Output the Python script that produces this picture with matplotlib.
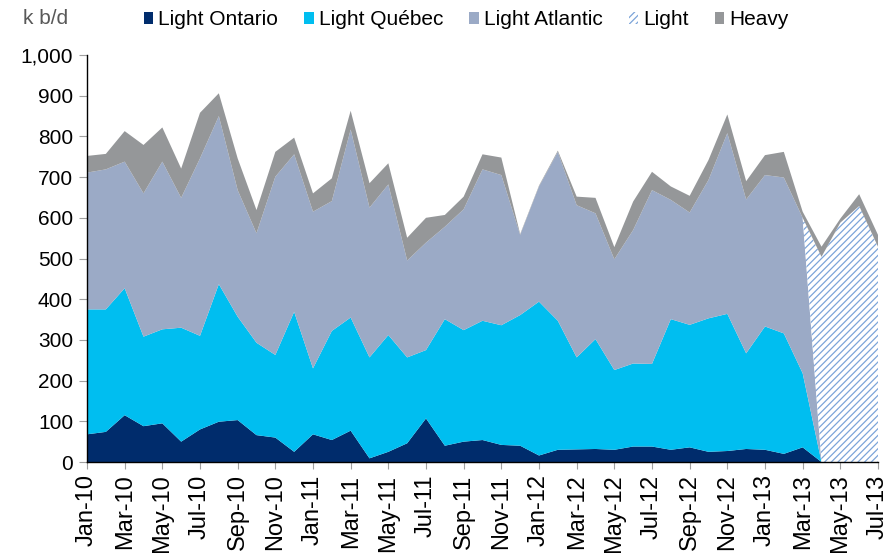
import numpy as np
import matplotlib
matplotlib.use('Agg')
import matplotlib.pyplot as plt
from matplotlib.patches import Patch
from matplotlib.ticker import FuncFormatter

plt.rcParams['font.family'] = ['Liberation Sans', 'DejaVu Sans']
plt.rcParams['hatch.linewidth'] = 0.9

# monthly data, Jan-10 .. Jul-13 (k b/d)
months = ['Jan-10', 'Feb-10', 'Mar-10', 'Apr-10', 'May-10', 'Jun-10', 'Jul-10', 'Aug-10',
          'Sep-10', 'Oct-10', 'Nov-10', 'Dec-10', 'Jan-11', 'Feb-11', 'Mar-11', 'Apr-11',
          'May-11', 'Jun-11', 'Jul-11', 'Aug-11', 'Sep-11', 'Oct-11', 'Nov-11', 'Dec-11',
          'Jan-12', 'Feb-12', 'Mar-12', 'Apr-12', 'May-12', 'Jun-12', 'Jul-12', 'Aug-12',
          'Sep-12', 'Oct-12', 'Nov-12', 'Dec-12', 'Jan-13', 'Feb-13', 'Mar-13', 'Apr-13',
          'May-13', 'Jun-13', 'Jul-13']

light_ontario = [68, 74, 115, 88, 95, 50, 80, 99, 103, 66, 60, 25, 68, 54, 77, 9, 25, 46, 107, 40,
                 50, 54, 42, 40, 16, 30, 31, 32, 30, 38, 38, 30, 36, 25, 27, 32, 30, 20, 36,
                 0, 0, 0, 0]
light_quebec = [307, 301, 312, 220, 231, 280, 230, 338, 254, 227, 203, 344, 162, 268, 278, 248,
                287, 211, 168, 311, 274, 293, 294, 321, 378, 317, 226, 270, 196, 204, 203, 321,
                301, 328, 337, 235, 303, 296, 182, 0, 0, 0, 0]
light_atlantic = [336, 344, 311, 352, 412, 319, 436, 413, 311, 269, 438, 387, 385, 319, 462, 368,
                  370, 238, 264, 227, 297, 372, 369, 197, 283, 415, 374, 309, 272, 328, 427, 293,
                  276, 340, 444, 378, 372, 383, 382, 0, 0, 0, 0]
light = [0] * 39 + [504, 588, 629, 529]
heavy = [41, 38, 75, 119, 84, 72, 112, 56, 78, 57, 61, 41, 45, 56, 46, 60, 52, 56, 61, 29,
         31, 37, 43, 2, 2, 3, 21, 38, 30, 70, 45, 33, 41, 49, 46, 45, 49, 63, 15, 25, 10, 29, 29]

names = ['Light Ontario', 'Light Québec', 'Light Atlantic', 'Light', 'Heavy']
colors = ['#002c6c', '#00bef0', '#9baac6', 'white', '#959799']
hatch_color = '#7ca4d9'

x = np.arange(len(months))

fig = plt.figure(figsize=(8.88, 5.53), dpi=100)
ax = fig.add_axes([87 / 888, 91 / 553, 791 / 888, 407 / 553])

polys = ax.stackplot(x, light_ontario, light_quebec, light_atlantic, light, heavy,
                     colors=colors, linewidth=0)
polys[3].set_hatch('/////')
polys[3].set_edgecolor(hatch_color)
polys[3].set_linewidth(0)

ax.set_xlim(0, len(months) - 1)
ax.set_ylim(0, 1000)
ax.set_yticks(range(0, 1001, 100))
ax.yaxis.set_major_formatter(FuncFormatter(lambda v, p: f'{int(v):,}'))
ax.set_xticks(x[::2])
ax.set_xticklabels(months[::2], rotation=90)

ax.tick_params(axis='y', labelsize=15, length=6, color='#a0a0a0', pad=4)
ax.tick_params(axis='x', labelsize=17, length=5, color='#a0a0a0', pad=4)
for s in ['top', 'right']:
    ax.spines[s].set_visible(False)
ax.spines['left'].set_linewidth(1)
ax.spines['bottom'].set_linewidth(1)

handles = []
for n, c in zip(names, colors):
    if n == 'Light':
        handles.append(Patch(facecolor='white', edgecolor=hatch_color, hatch='/////', lw=0, label=n))
    else:
        handles.append(Patch(facecolor=c, lw=0, label=n))
fig.legend(handles=handles, loc='center', bbox_to_anchor=(0.525, 0.964), ncol=5,
           frameon=False, fontsize=15, handlelength=0.45, handleheight=0.45,
           handletextpad=0.25, columnspacing=1.25, borderpad=0)

fig.text(23 / 888, 1 - 18 / 553, 'k b/d', fontsize=15, color='#595959', va='center', ha='left')

fig.savefig('out.png', dpi=100)
